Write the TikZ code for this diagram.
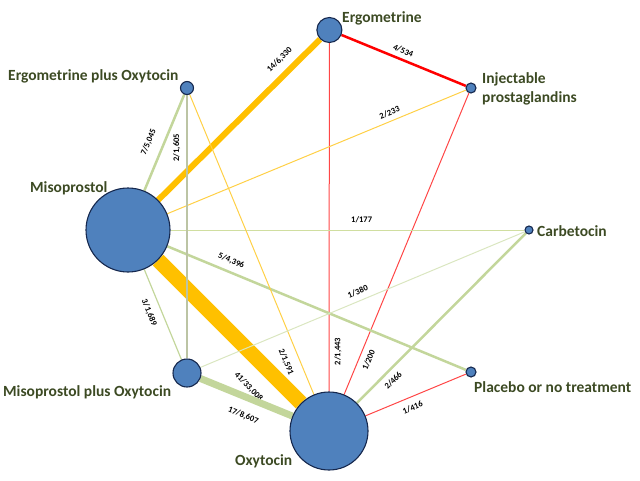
\documentclass[tikz,border=0pt]{standalone}
\usepackage{fontspec}
\setmainfont{Carlito}
\usetikzlibrary{positioning}

\pgfdeclarelayer{edges}
\pgfsetlayers{edges,main}

\definecolor{nodeblue}{RGB}{79,129,189}
\definecolor{nodeline}{RGB}{22,40,78}
\definecolor{lbltext}{RGB}{60,74,35}
\definecolor{orng}{RGB}{255,192,0}
\definecolor{grn}{RGB}{195,214,155}
\definecolor{lgrn}{RGB}{218,230,192}
\definecolor{ygrn}{RGB}{208,222,160}
\definecolor{gry}{RGB}{188,196,164}
\definecolor{yel}{RGB}{255,208,70}
\definecolor{rd}{RGB}{255,0,0}
\definecolor{ltrd}{RGB}{255,70,70}

\begin{document}
\begin{tikzpicture}[
        x=1pt, y=-1pt,
        trt/.style={circle, draw=nodeline, fill=nodeblue, line width=1.1pt, inner sep=0pt, minimum size=#1},
        trtlbl/.style={font=\fontsize{15.5}{19}\selectfont\bfseries, text=lbltext, inner sep=0pt, anchor=base west},
        cmplbl/.style={font=\fontsize{8.5}{10}\selectfont\bfseries, text=black, sloped, inner sep=#1}
    ]
    \useasboundingbox (0,0) rectangle (640,480);

    % Treatments
    \foreach \n/\x/\y/\d in {miso/128/230/84,ergo/329.4/30/25,ergoxy/187/88/13,inj/471/88/10,
                             carb/529/230/8,misoxy/187/373/28,oxy/329/431/78,plac/471/372/10}
        \node[trt=\d pt] (\n) at (\x,\y) {};

    % Treatment names
    \node[trtlbl] (ergolbl) at (342,22) {Ergometrine};
    \node[trtlbl] (ergoxylbl) at (8,80) {Ergometrine plus Oxytocin};
    \node[trtlbl, align=left, anchor=west] (injlbl) at (482,89) {Injectable\\prostaglandins};
    \node[trtlbl] (misolbl) at (30,192) {Misoprostol};
    \node[trtlbl] (carblbl) at (537,236) {Carbetocin};
    \node[trtlbl] (misoxylbl) at (3,396) {Misoprostol plus Oxytocin};
    \node[trtlbl] (placlbl) at (474,392) {Placebo or no treatment};
    \node[trtlbl] (oxylbl) at (235,465) {Oxytocin};

    % Comparisons
    \begin{pgfonlayer}{edges}
        \draw[orng, line width=15pt] (miso) -- node[cmplbl=14.5pt, pos=0.76, below] {41/33,008} (oxy);
        \draw[orng, line width=6pt] (miso) -- node[cmplbl=7.3pt, pos=0.81, above] {14/6,330} (ergo);
        \draw[rd, line width=2.5pt] (ergo) -- node[cmplbl=4.4pt, pos=0.47, above] {4/534} (inj);
        \draw[ltrd, line width=1pt] (oxy) -- node[cmplbl=4.8pt, pos=0.115, below] {2/1,443} (ergo);
        \draw[ltrd, line width=1pt] (oxy) -- node[cmplbl=5.7pt, pos=0.127, below] {1/200} (inj);
        \draw[ltrd, line width=1pt] (oxy) -- node[cmplbl=6.9pt, pos=0.43, below] {1/416} (plac);
        \draw[yel, line width=1pt] (miso) -- node[cmplbl=4.7pt, pos=0.755, above] {2/233} (inj);
        \draw[ygrn, line width=1pt] (miso) -- node[cmplbl=6.8pt, pos=0.54, above] {1/177} (carb);
        \draw[grn, line width=2.5pt] (miso) -- node[cmplbl=6.2pt, pos=0.2, above] {5/4,396} (plac);
        \draw[grn, line width=2.5pt] (miso) -- node[cmplbl=9.9pt, pos=0.447, above] {7/5,045} (ergoxy);
        \draw[gry, line width=2pt] (misoxy) -- node[cmplbl=5.8pt, pos=0.8, above] {2/1,605} (ergoxy);
        \draw[yel, line width=1pt] (ergoxy) -- node[cmplbl=9.2pt, pos=0.875, below] {2/1,591} (oxy);
        \draw[grn, line width=1.2pt] (miso) -- node[cmplbl=7.8pt, pos=0.43, below] {3/1,689} (misoxy);
        \draw[grn, line width=7pt] (misoxy) -- node[cmplbl=11pt, pos=0.54, below] {17/8,607} (oxy);
        \draw[lgrn, line width=1pt] (misoxy) -- node[cmplbl=5.5pt, pos=0.496, above] {1/380} (carb);
        \draw[grn, line width=2.5pt] (oxy) -- node[cmplbl=5.5pt, pos=0.173, below] {2/466} (carb);
    \end{pgfonlayer}

\end{tikzpicture}
\end{document}
